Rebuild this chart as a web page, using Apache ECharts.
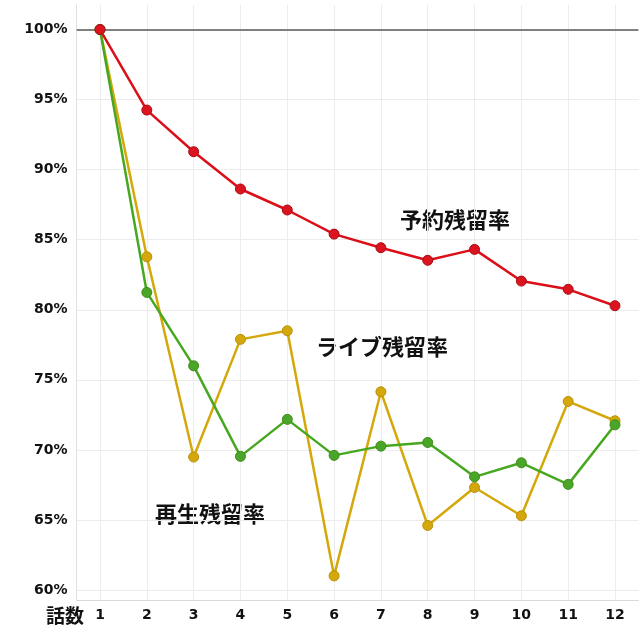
<!DOCTYPE html>
<html>
<head>
<meta charset="utf-8">
<script src="https://cdn.jsdelivr.net/npm/echarts@6/dist/echarts.min.js"></script>
<style>html,body{margin:0;padding:0;background:#fff;}#c{width:640px;height:640px;}</style>
</head>
<body>
<div id="c"></div>
<script>
const episodes = [1,2,3,4,5,6,7,8,9,10,11,12];
const reserveRate = [100, 94.25, 91.28, 88.62, 87.12, 85.40, 84.43, 83.53, 84.31, 82.05, 81.46, 80.29];
const liveRate = [100, 83.78, 69.49, 77.89, 78.50, 61.01, 74.15, 64.61, 67.32, 65.30, 73.46, 72.08];
const playRate = [100, 81.24, 76.00, 69.54, 72.18, 69.61, 70.27, 70.53, 68.08, 69.08, 67.54, 71.79];
const yTicks = [60, 65, 70, 75, 80, 85, 90, 95, 100];
const labelReserve = '予約残留率';
const labelLive = 'ライブ残留率';
const labelPlay = '再生残留率';
const xName = '話数';

const pair = arr => episodes.map((e, i) => [e, arr[i]]);
const chart = echarts.init(document.getElementById('c'), null, {renderer: 'canvas'});
const tickFont = {fontFamily: 'DejaVu Sans', fontWeight: 'bold', fontSize: 14, color: '#111'};
function mk(name, data, lineColor, dotColor, borderColor, extra) {
  return Object.assign({
    name, type: 'line', data: pair(data),
    symbol: 'circle', symbolSize: 10,
    lineStyle: {color: lineColor, width: 2.5},
    itemStyle: {color: dotColor, borderColor: borderColor, borderWidth: 1},
    animation: false, z: 3
  }, extra || {});
}
chart.setOption({
  animation: false,
  grid: {left: 76.6, right: 1.6, top: 5, bottom: 40, containLabel: false},
  xAxis: {
    type: 'value', min: 0.5, max: 12.5,
    axisLine: {show: true, lineStyle: {color: '#d9d9d9', width: 1}},
    axisTick: {show: false, customValues: episodes},
    axisLabel: Object.assign({customValues: episodes, margin: 8}, tickFont),
    splitLine: {show: true, lineStyle: {color: '#ececec', width: 1}}
  },
  yAxis: {
    type: 'value', min: 59.29, max: 101.75,
    axisLine: {show: true, lineStyle: {color: '#e0e0e0', width: 1}},
    axisTick: {show: false, customValues: yTicks},
    axisLabel: Object.assign({customValues: yTicks, margin: 9, formatter: v => Math.round(v) + '%'}, tickFont),
    splitLine: {show: true, lineStyle: {color: '#ececec', width: 1}}
  },
  series: [
    mk(labelLive, liveRate, '#d4a80a', '#d4a80a', '#b8900a'),
    mk(labelPlay, playRate, '#47a81f', '#4aa628', '#3d8c1c'),
    mk(labelReserve, reserveRate, '#dc0f19', '#dc1420', '#a80c14', {
      markLine: {
        silent: true, symbol: 'none', label: {show: false},
        lineStyle: {color: '#808080', width: 2, type: 'solid'},
        data: [{yAxis: 100}], z: 1
      }
    })
  ],
  graphic: [
    {type: 'text', left: 400, top: 209, style: {text: labelReserve, font: 'bold 22px "Noto Sans CJK JP"', fill: '#111'}},
    {type: 'text', left: 316, top: 336, style: {text: labelLive, font: 'bold 22px "Noto Sans CJK JP"', fill: '#111'}},
    {type: 'text', left: 155, top: 503, style: {text: labelPlay, font: 'bold 22px "Noto Sans CJK JP"', fill: '#111'}},
    {type: 'text', left: 46, top: 606, style: {text: xName, font: 'bold 19px "Noto Sans CJK JP"', fill: '#111'}}
  ]
});
</script>
</body>
</html>
